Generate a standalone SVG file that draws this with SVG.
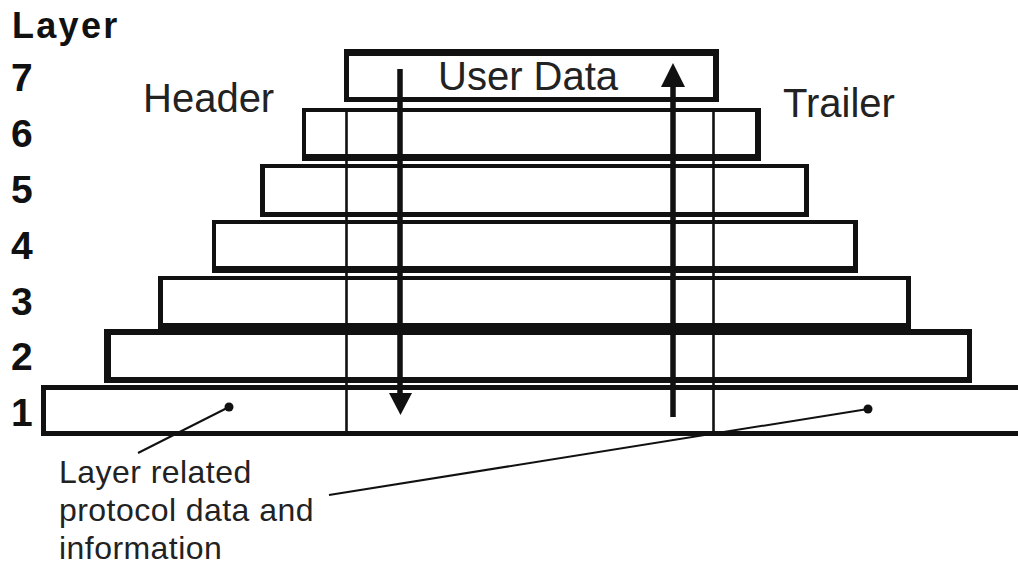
<svg xmlns="http://www.w3.org/2000/svg" width="1018" height="567" viewBox="0 0 1018 567">
<style>
.frame{fill:#111;fill-rule:evenodd}
.div{stroke:#111;stroke-width:2.6}
.num{font-family:"Liberation Sans",Arial,sans-serif;font-weight:bold;font-size:39px;fill:#111}
.lbl{font-family:"Liberation Sans",Arial,sans-serif;font-size:40px;fill:#222}
.note{font-family:"Liberation Sans",Arial,sans-serif;font-size:32px;fill:#222;letter-spacing:0.45px}
.shaft{stroke:#111;stroke-width:5.5;fill:none}
.lead{stroke:#111;stroke-width:2;fill:none}
.head{fill:#111}
</style>
<rect width="1018" height="567" fill="#fff"/>
<g id="axis">
<text class="num" x="12" y="38" letter-spacing="2.3" style="font-size:36px">Layer</text>
<text class="num" x="11" y="91">7</text>
<text class="num" x="11" y="147">6</text>
<text class="num" x="11" y="203">5</text>
<text class="num" x="11" y="259">4</text>
<text class="num" x="11" y="315">3</text>
<text class="num" x="11" y="370">2</text>
<text class="num" x="11" y="426">1</text>
</g>
<g id="layer7">
<path class="frame" d="M344 49H719V102H344Z M349 56V97H713V56Z"/>
<text class="lbl" x="438" y="90">User Data</text>
</g>
<g id="layer6"><path class="frame" d="M302 108H761V161H302Z M306 112V154H755V112Z"/></g>
<g id="layer5"><path class="frame" d="M260 164H809V217H260Z M265 168V212H804V168Z"/></g>
<g id="layer4"><path class="frame" d="M212 220H858V273H212Z M216 224V266H853V224Z"/></g>
<g id="layer3"><path class="frame" d="M158 276H911V330H158Z M163 280V323H906V280Z"/></g>
<g id="layer2"><path class="frame" d="M104 329H972V383H104Z M111 335V377H967V335Z"/></g>
<g id="layer1"><path class="frame" d="M41 385H1030V436H41Z M46 390V431H1030V390Z"/></g>
<g id="header"><text class="lbl" x="143" y="112">Header</text></g>
<g id="trailer"><text class="lbl" x="783" y="117">Trailer</text></g>
<g id="note">
<text class="note" x="59" y="483">Layer related</text>
<text class="note" x="59" y="521">protocol data and</text>
<text class="note" x="59" y="559">information</text>
</g>
<g id="connectors">
<line class="div" x1="346.5" y1="108" x2="346.5" y2="436"/>
<line class="div" x1="713.5" y1="108" x2="713.5" y2="436"/>
<line class="shaft" x1="400" y1="69" x2="400" y2="396"/>
<polygon class="head" points="389,393 412,393 400.5,415"/>
<line class="shaft" x1="673" y1="417" x2="673" y2="84"/>
<polygon class="head" points="661,87 685,87 673,63"/>
<line class="lead" x1="229" y1="407" x2="138" y2="453"/>
<circle class="head" cx="229" cy="407" r="4.5"/>
<line class="lead" x1="868" y1="409" x2="329" y2="495"/>
<circle class="head" cx="868" cy="409" r="4.5"/>
</g>
</svg>
